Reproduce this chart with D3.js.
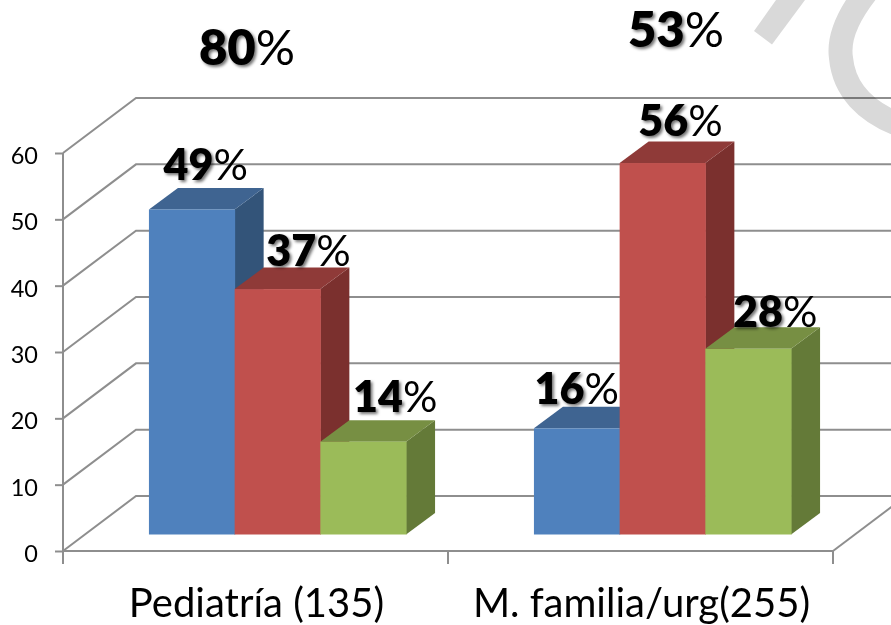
<!DOCTYPE html>
<head>
    <meta charset="utf-8">
    <title>Pediatría / M. familia</title>
    <style>
        body { margin: 0; background: #fff; }
        svg { display: block; font-family: Lato, "Open Sans", sans-serif; }
        .digits { font-weight: 800; }
        .pct { font-weight: 400; }
    </style>
</head>
<body>
<svg width="891" height="625"></svg>
<script src="https://d3js.org/d3.v7.min.js"></script>
<script>

var categories = ["Pediatría (135)", "M. familia/urg(255)"];
var groupTotals = [80, 53];
var seriesBlue = [49, 16];
var seriesRed = [37, 56];
var seriesGreen = [14, 28];
var yTicks = [0, 10, 20, 30, 40, 50, 60];

var series = [
    { values: seriesBlue, front: "#4f81bd", top: "#3f6491", side: "#335479" },
    { values: seriesRed, front: "#c0504d", top: "#8f3a38", side: "#7b302e" },
    { values: seriesGreen, front: "#9bbb59", top: "#778f43", side: "#647a38" }
];

var svg = d3.select("svg");

// 3d offsets of the back wall and of the bars
var wallDx = 73, wallDy = -55;
var barDx = 29, barDy = -21.5;
var floorLift = 16.5, barShift = 22;

var x = d3.scaleBand().domain(categories).range([63, 833]);
var xSeries = d3.scaleBand().domain(d3.range(series.length))
    .range([0, x.bandwidth()]).paddingOuter(0.746).paddingInner(0);
var y = d3.scaleLinear().domain([0, 60]).range([551, 153]);

// walls and floor
var grid = svg.append("g").attr("fill", "none").attr("stroke", "#8e8e8e").attr("stroke-width", 2);
yTicks.forEach(function (t) {
    grid.append("path").attr("d", d3.line()([
        [x.range()[0], y(t)],
        [x.range()[0] + wallDx, y(t) + wallDy],
        [x.range()[1] + wallDx, y(t) + wallDy]
    ]));
});
grid.append("path").attr("d", d3.line()([
    [x.range()[1], y(0)],
    [x.range()[1] + wallDx, y(0) + wallDy]
]));

// watermark, multiplied over the grid
var mark = svg.append("g").style("mix-blend-mode", "multiply");
mark.append("path").attr("fill", "#d9d9d9").attr("d", "M754,31L772,44.5L805,0L776,0Z");
mark.append("path")
    .attr("fill", "none")
    .attr("stroke", "#d9d9d9")
    .attr("stroke-width", 24)
    .attr("d", "M868,-10C848,15 838,38 841,58C844,90 866,112 900,125");

// axes
var axisLeft = svg.append("g")
    .attr("transform", "translate(" + x.range()[0] + ",0)")
    .call(d3.axisLeft(y).tickValues(yTicks).tickSize(8).tickPadding(17));
var axisBottom = svg.append("g")
    .attr("transform", "translate(0," + y(0) + ")")
    .call(d3.axisBottom(x).tickSize(0).tickPadding(0).tickFormat(""));
axisBottom.selectAll(".tick").remove();
axisBottom.selectAll(".sep")
    .data(x.range().concat([x.range()[0] + x.step()]))
    .enter().append("line")
    .attr("x1", function (d) { return d; })
    .attr("x2", function (d) { return d; })
    .attr("y1", 0)
    .attr("y2", 13)
    .attr("stroke", "#8e8e8e")
    .attr("stroke-width", 2);
svg.selectAll(".domain, .tick line").attr("stroke", "#8e8e8e").attr("stroke-width", 2);
axisLeft.select(".domain").attr("d", "M0," + y(60) + "V" + (y(0) + 13));
axisBottom.select(".domain").attr("d", "M" + x.range()[0] + ",0H" + x.range()[1]);
axisLeft.selectAll("text")
    .attr("font-size", 23.5)
    .attr("fill", "#000")
    .attr("font-family", "Lato")
    .attr("transform", "translate(0,3)");

// bars
var bars = [];
categories.forEach(function (c, i) {
    series.forEach(function (s, j) {
        bars.push({ c: c, j: j, s: s, v: s.values[i] });
    });
});
var base = y(0) - floorLift;
var bw = xSeries.bandwidth();
var h = function (v) { return y(0) - y(v); };
var barX = function (d) { return x(d.c) + xSeries(d.j) + barShift; };

var bar = svg.append("g").selectAll("g").data(bars).enter().append("g")
    .attr("transform", function (d) { return "translate(" + barX(d) + "," + base + ")"; });

bar.append("path").attr("fill", function (d) { return d.s.side; })
    .attr("d", function (d) {
        return d3.line()([[bw, 0], [bw + barDx, barDy], [bw + barDx, barDy - h(d.v)], [bw, -h(d.v)]]) + "Z";
    });
bar.append("path").attr("fill", function (d) { return d.s.top; })
    .attr("d", function (d) {
        return d3.line()([[0, -h(d.v)], [barDx, barDy - h(d.v)], [bw + barDx, barDy - h(d.v)], [bw, -h(d.v)]]) + "Z";
    });
bar.append("rect").attr("fill", function (d) { return d.s.front; })
    .attr("x", 0).attr("width", bw + 0.5)
    .attr("y", function (d) { return -h(d.v); })
    .attr("height", function (d) { return h(d.v); });

// labels, digits are bold with a soft shadow
var defs = svg.append("defs");
defs.append("filter").attr("id", "soft").attr("x", "-20%").attr("y", "-20%").attr("width", "140%").attr("height", "140%")
    .append("feDropShadow")
    .attr("dx", 2).attr("dy", 2).attr("stdDeviation", 1.5)
    .attr("flood-color", "#000").attr("flood-opacity", 0.55);

function pctLabel(sel, cx, baseline, v, size) {
    var t = sel.append("text")
        .attr("x", cx).attr("y", baseline)
        .attr("text-anchor", "middle")
        .attr("font-size", size)
        .attr("fill", "#000");
    t.append("tspan").attr("class", "digits").attr("filter", "url(#soft)").text(v);
    t.append("tspan").attr("class", "pct").text("%");
}

// hand placed in the original, so each label gets its own nudge from the bar top
var nudgeX = [14, 31, 32, 0, 18, 27];
var nudgeY = [-7.5, -2, -8, -2.5, -6, 0];

var labels = svg.append("g");
bars.forEach(function (d, i) {
    pctLabel(labels, barX(d) + bw / 2 + nudgeX[i], base - h(d.v) + barDy + nudgeY[i], d.v + "", 43);
});
pctLabel(labels, x(categories[0]) + 184, 65, groupTotals[0] + "", 49);
pctLabel(labels, x(categories[1]) + 228, 47, groupTotals[1] + "", 49);

// category names
svg.append("g").selectAll("text").data(categories).enter().append("text")
    .attr("x", function (d) { return x(d) + x.bandwidth() / 2 + 1; })
    .attr("y", 617)
    .attr("text-anchor", "middle")
    .attr("font-size", 40)
    .attr("fill", "#000")
    .text(function (d) { return d; });

</script>
</body>
